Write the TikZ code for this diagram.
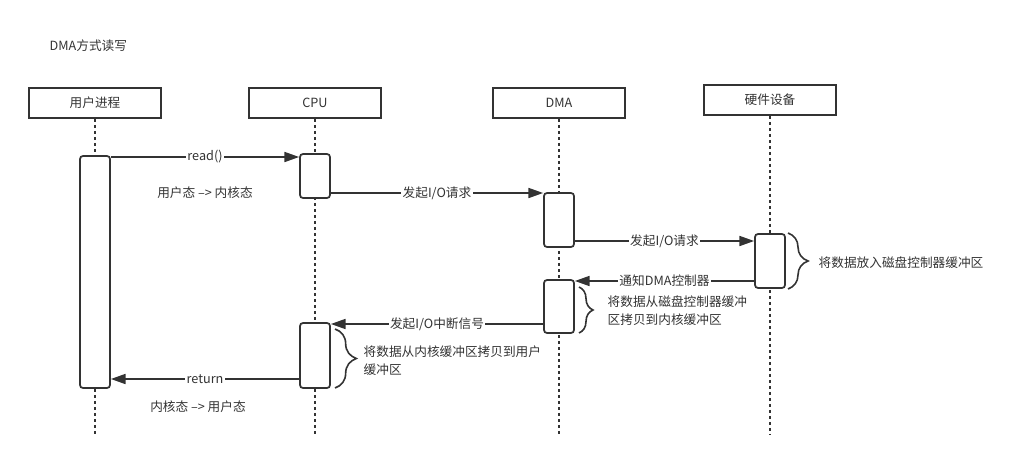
\documentclass[tikz,border=0pt]{standalone}
\usepackage{fontspec}
\setmainfont{Noto Sans CJK SC}
\usetikzlibrary{arrows.meta,decorations.pathreplacing}
\definecolor{ink}{HTML}{333333}
\tikzset{
	head/.style={draw, line width=1.3pt, minimum width=99pt, minimum height=22.5pt},
	act/.style={draw, fill=white, line width=1.3pt, rounded corners=2.25pt, minimum width=22.5pt},
	life/.style={line width=1.3pt, dash pattern=on 2.25pt off 2.25pt},
	msg/.style={line width=1.2pt},
	lbl/.style={fill=white, inner sep=1pt},
	note/.style={anchor=west, align=left},
	curly/.style={line width=1.2pt, decorate, decoration={brace, amplitude=#1}}
}
\begin{document}
\begin{tikzpicture}[x=0.75pt, y=-0.75pt, color=ink,
		>={Triangle[length=11pt,width=7.5pt]},
		font=\fontsize{9.5}{13.5}\selectfont]
	\useasboundingbox (0,0) rectangle (1017,460);

	\draw (45,46) node[anchor=west](title){DMA方式读写};

	\draw (95,103) node[head](user){用户进程};
	\draw (315,103) node[head](cpu){CPU};
	\draw (559,103) node[head](dma){DMA};
	\draw (770,100) node[head](hw){硬件设备};

	\draw[life] (user) -- (user |- 0,435);
	\draw[life] (cpu) -- (cpu |- 0,435);
	\draw[life] (dma) -- (dma |- 0,435);
	\draw[life] (hw) -- (hw |- 0,435);

	\draw (95,272) node[act,
					   minimum height=174pt
				](u1){};
	\draw (315,176) node[act,
					   minimum height=33pt
				](c1){};
	\draw (559,220) node[act,
					   minimum height=40.5pt
				](d1){};
	\draw (770,261) node[act,
					   minimum height=40.5pt
				](h1){};
	\draw (559,306.5) node[act,
					   minimum height=39.75pt
				](d2){};
	\draw (315,355.5) node[act,
					   minimum height=48.75pt
				](c2){};

	\draw[msg, ->] (u1.east |- 0,157) -- node[lbl]{read()} (c1.west |- 0,157);
	\draw[msg, ->] (c1.east |- 0,193) -- node[lbl]{发起I/O请求} (d1.west |- 0,193);
	\draw[msg, ->] (d1.east |- 0,241) -- node[lbl]{发起I/O请求} (h1.west |- 0,241);
	\draw[msg, ->] (h1.west |- 0,281) -- node[lbl]{通知DMA控制器} (d2.east |- 0,281);
	\draw[msg, ->] (d2.west |- 0,324) -- node[lbl]{发起I/O中断信号} (c2.east |- 0,324);
	\draw[msg, ->] (c2.west |- 0,379) -- node[lbl]{return} (u1.east |- 0,379);

	\draw (205,193) node(toKernel){用户态 --> 内核态};
	\draw (198,407) node(toUser){内核态 --> 用户态};

	\draw[curly=15pt] (788,233) -- (788,289);
	\draw (814,263) node[note](n1){将数据放入磁盘控制器缓冲区};
	\draw[curly=10.5pt] (579,287) -- (579,333);
	\draw (603,311) node[note](n2){将数据从磁盘控制器缓冲\\区拷贝到内核缓冲区};
	\draw[curly=16pt] (335,329) -- (335,388);
	\draw (359,361) node[note](n3){将数据从内核缓冲区拷贝到用户\\缓冲区};
\end{tikzpicture}
\end{document}
